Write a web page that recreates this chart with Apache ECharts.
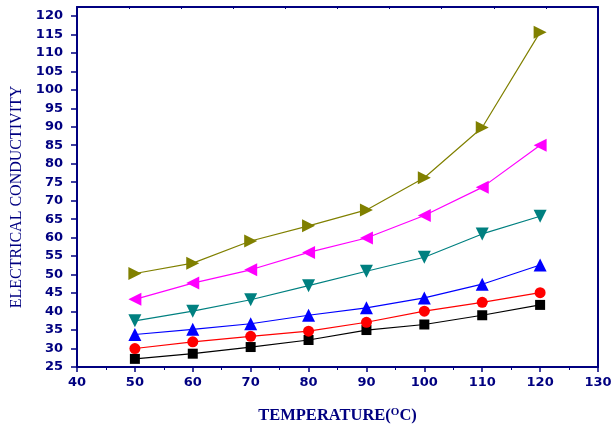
<!DOCTYPE html>
<html>
<head>
<meta charset="utf-8">
<script src="https://cdn.jsdelivr.net/npm/echarts@6/dist/echarts.min.js"></script>
<style>html,body{margin:0;padding:0;background:#fff;}#c{width:613px;height:426px;}</style>
</head>
<body>
<div id="c"></div>
<script>
var temperatures = [50, 60, 70, 80, 90, 100, 110, 120];
var seriesBlack = [27.2, 28.6, 30.4, 32.3, 35.0, 36.5, 39.0, 41.8];
var seriesRed = [30.0, 31.8, 33.3, 34.7, 37.1, 40.1, 42.5, 45.1];
var seriesBlue = [33.8, 35.2, 36.7, 39.0, 41.0, 43.7, 47.4, 52.6];
var seriesTeal = [37.5, 40.1, 43.2, 47.0, 50.9, 54.7, 61.0, 65.8];
var seriesMagenta = [43.3, 47.7, 51.3, 56.0, 59.9, 66.0, 73.6, 85.0];
var seriesOlive = [50.3, 53.1, 59.1, 63.2, 67.5, 76.2, 89.8, 115.6];
var yTicks = {min: 25, max: 122.4, interval: 5};
var xTicks = {min: 40, max: 130, interval: 10};

var navy = '#000080';
function pairs(vals) { return temperatures.map(function (t, i) { return [t, vals[i]]; }); }
function mk(vals, color, symbol, size, rotate) {
  return {
    type: 'line', data: pairs(vals), symbol: symbol, symbolSize: size, symbolRotate: rotate || 0,
    showAllSymbol: true,
    lineStyle: {color: color, width: 1.2}, itemStyle: {color: color},
    emphasis: {disabled: true}, animation: false, z: 3
  };
}
var chart = echarts.init(document.getElementById('c'));
chart.setOption({
  animation: false,
  grid: {left: 77, right: 15, top: 7, bottom: 59, containLabel: false, outerBoundsMode: 'none'},
  xAxis: [{
    type: 'value', min: xTicks.min, max: xTicks.max, interval: xTicks.interval,
    axisLine: {show: true, lineStyle: {color: navy, width: 2}},
    axisTick: {show: true, inside: false, length: 5, lineStyle: {color: navy, width: 1.5}},
    minorTick: {show: true, splitNumber: 2, length: 3, lineStyle: {color: navy, width: 1}},
    splitLine: {show: false},
    axisLabel: {color: navy, fontFamily: 'DejaVu Sans', fontWeight: 'bold', fontSize: 13, margin: 9},
    name: '{a|TEMPERATURE(}{s|O}{a|C)}', nameLocation: 'middle', nameGap: 40,
    nameTextStyle: {rich: {
      a: {color: navy, fontFamily: 'Liberation Serif', fontWeight: 'bold', fontSize: 16.5},
      s: {color: navy, fontFamily: 'Liberation Serif', fontWeight: 'bold', fontSize: 11, verticalAlign: 'top', padding: [0, 0, 7, 0]}
    }}
  }, {
    type: 'value', position: 'top', min: 0, max: 10, interval: 1,
    axisLine: {show: true, lineStyle: {color: navy, width: 2}},
    axisTick: {show: true, inside: true, length: 2, lineStyle: {color: navy, width: 1}},
    axisLabel: {show: false}, splitLine: {show: false}
  }],
  yAxis: [{
    type: 'value', min: yTicks.min, max: yTicks.max, interval: yTicks.interval,
    axisLine: {show: true, lineStyle: {color: navy, width: 2}},
    axisTick: {show: true, inside: false, length: 6, lineStyle: {color: navy, width: 1.5}},
    splitLine: {show: false},
    axisLabel: {color: navy, fontFamily: 'DejaVu Sans', fontWeight: 'bold', fontSize: 13, margin: 14, showMaxLabel: false},
    name: 'ELECTRICAL CONDUCTIVITY', nameLocation: 'middle', nameGap: 51,
    nameTextStyle: {color: navy, fontFamily: 'Liberation Serif', fontSize: 16, padding: [0, 20, 0, 0]}
  }, {
    type: 'value', position: 'right', min: yTicks.min, max: yTicks.max,
    axisLine: {show: true, lineStyle: {color: navy, width: 2}},
    axisTick: {show: false}, axisLabel: {show: false}, splitLine: {show: false}
  }],
  series: [
    mk(seriesBlack, '#000000', 'rect', 10),
    mk(seriesRed, '#FF0000', 'circle', 11),
    mk(seriesBlue, '#0000FF', 'triangle', 13),
    mk(seriesTeal, '#008080', 'triangle', 13, 180),
    mk(seriesMagenta, '#FF00FF', 'triangle', 13, 90),
    mk(seriesOlive, '#808000', 'triangle', 13, -90)
  ]
});
</script>
</body>
</html>
